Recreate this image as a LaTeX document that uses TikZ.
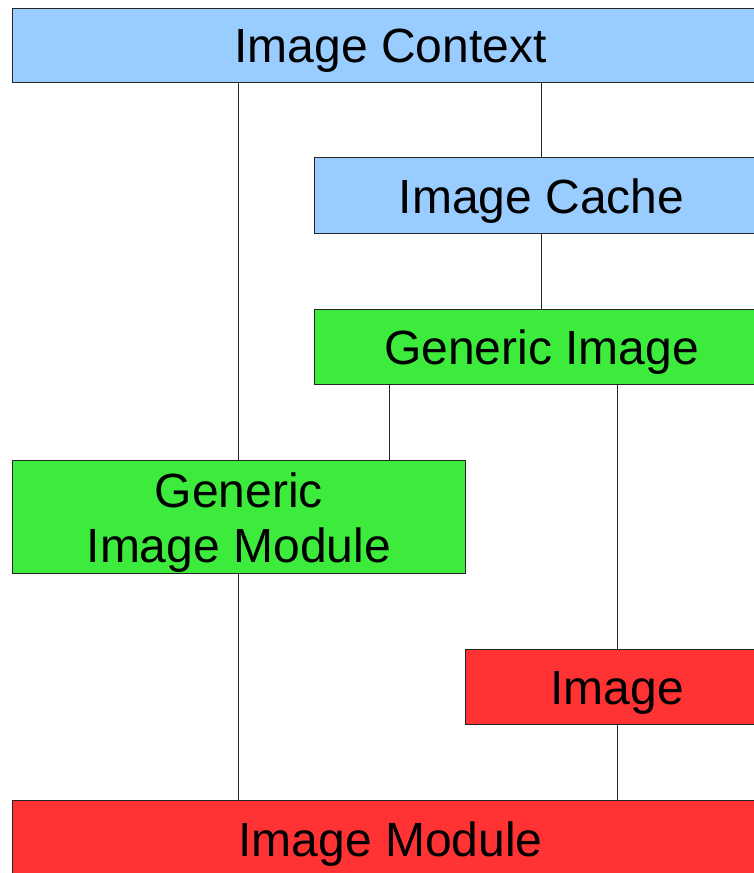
\documentclass[tikz,border=0pt]{standalone}
\usepackage{fontspec}
\setmainfont{Liberation Sans}
\definecolor{ctxblue}{HTML}{99CCFF}
\definecolor{genGreen}{HTML}{3DEB3D}
\definecolor{imgRed}{HTML}{FF3333}
\begin{document}
\begin{tikzpicture}[x=1pt,y=-1pt,
  box/.style={draw=black!85, line width=1pt, anchor=north west, inner sep=0pt,
    font=\fontsize{48}{55}\selectfont, text height=35pt, text depth=0pt},
  link/.style={draw=black!85, line width=1pt}]
\useasboundingbox (0,0) rectangle (754,873);
\fill[white] (0,0) rectangle (754,873);
\clip (0,0) rectangle (754,873);

\node[box, fill=ctxblue, minimum width=757pt, minimum height=74pt] (ctx) at (11.5,7.5) {Image Context};
\node[box, fill=ctxblue, minimum width=454pt, minimum height=76pt] (cache) at (314,157) {Image Cache};
\node[box, fill=genGreen, minimum width=454pt, minimum height=75pt] (gi) at (314,309) {Generic Image};
\node[box, fill=genGreen, minimum width=453.5pt, minimum height=113pt, align=center,
  text height=90pt] (gim) at (11.5,460) {Generic\\Image Module};
\node[box, fill=imgRed, minimum width=303pt, minimum height=75pt] (img) at (465,649) {Image};
\node[box, fill=imgRed, minimum width=757pt, minimum height=76pt] (mod) at (11.5,800) {Image Module};

\coordinate (giTap) at ([xshift=75pt]gi.south west);

\draw[link] (ctx.south -| gim.north) -- (gim.north);
\draw[link] (gim.south) -- (mod.north -| gim.south);
\draw[link] (ctx.south -| cache.north) -- (cache.north);
\draw[link] (cache.south) -- (gi.north -| cache.south);
\draw[link] (giTap) -- (gim.north -| giTap);
\draw[link] (gi.south -| img.north) -- (img.north);
\draw[link] (img.south) -- (mod.north -| img.south);
\end{tikzpicture}
\end{document}
